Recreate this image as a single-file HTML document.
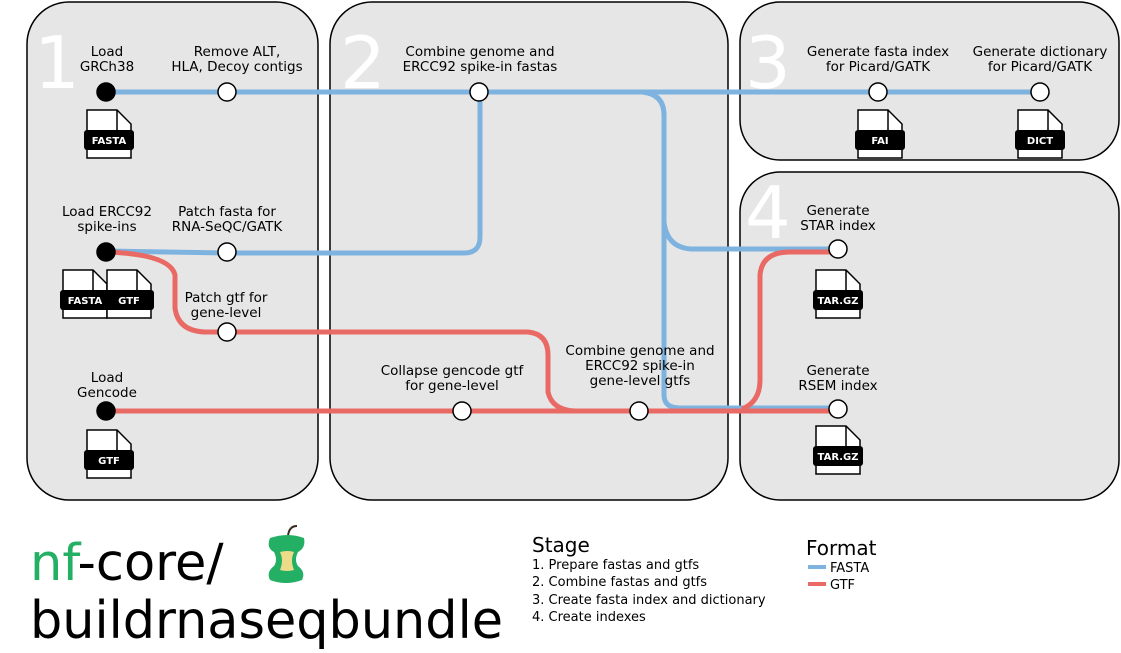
<!DOCTYPE html>
<html><head><meta charset="utf-8"><style>
html,body{margin:0;padding:0;background:#fff;width:1121px;height:653px;overflow:hidden}
svg{display:block;font-family:"DejaVu Sans","Liberation Sans",sans-serif}
.lbl{font-size:13.5px;fill:#000;text-anchor:middle}
.num{font-size:72px;fill:#fff;font-family:"DejaVu Sans",sans-serif}
</style></head><body>
<svg id="map" width="1121" height="653" viewBox="0 0 1121 653">
<g fill="#e6e6e6" stroke="#000" stroke-width="1.5">
<rect x="27" y="2" width="291" height="498" rx="42"/>
<rect x="330" y="2" width="398" height="498" rx="42"/>
<rect x="740" y="2" width="379" height="158" rx="40"/>
<rect x="740" y="172" width="379" height="328" rx="40"/>
</g>
<text class="num" x="34" y="88">1</text>
<text class="num" x="340" y="88">2</text>
<text class="num" x="745" y="88">3</text>
<text class="num" x="745" y="238">4</text>

<g fill="none" stroke="#7fb3df" stroke-width="5">
<path d="M106 92 H1040"/>
<path d="M106 251 L227 253 H464 Q480 253 480 237 V92"/>
<path d="M642 92 Q664 94 664 115 V395 Q664 408 680 408 H838"/>
<path d="M664 222 Q667 248 692 249 H838"/>
</g>
<g fill="none" stroke="#e96a65" stroke-width="5">
<path d="M106 252 Q170 254 175 275 V308 Q178 331 205 332 H528 Q548 334 548 355 V392 Q552 410 575 411"/>
<path d="M106 411 H838"/>
<path d="M742 409 Q760 402 760 380 V275 Q762 252 790 252 H838"/>
</g>

<g stroke="#000" stroke-width="1.5">
<circle cx="106" cy="92" r="9" fill="#000"/>
<circle cx="106" cy="252" r="9" fill="#000"/>
<circle cx="106" cy="411" r="9" fill="#000"/>
<circle cx="227" cy="92" r="9" fill="#fff"/>
<circle cx="479" cy="92" r="9" fill="#fff"/>
<circle cx="227" cy="252" r="9" fill="#fff"/>
<circle cx="227" cy="332" r="9" fill="#fff"/>
<circle cx="462" cy="411" r="9" fill="#fff"/>
<circle cx="639" cy="411" r="9" fill="#fff"/>
<circle cx="878" cy="92" r="9" fill="#fff"/>
<circle cx="1040" cy="92" r="9" fill="#fff"/>
<circle cx="838" cy="249" r="9" fill="#fff"/>
<circle cx="838" cy="409" r="9" fill="#fff"/>
</g>

<g>
<text class="lbl" x="107" y="56"><tspan x="107">Load</tspan><tspan x="107" dy="15">GRCh38</tspan></text>
<text class="lbl" x="237" y="56"><tspan x="237">Remove ALT,</tspan><tspan x="237" dy="15">HLA, Decoy contigs</tspan></text>
<text class="lbl" x="480" y="56"><tspan x="480">Combine genome and</tspan><tspan x="480" dy="15">ERCC92 spike-in fastas</tspan></text>
<text class="lbl" x="878" y="56"><tspan x="878">Generate fasta index</tspan><tspan x="878" dy="15">for Picard/GATK</tspan></text>
<text class="lbl" x="1040" y="56"><tspan x="1040">Generate dictionary</tspan><tspan x="1040" dy="15">for Picard/GATK</tspan></text>
<text class="lbl" x="107" y="216"><tspan x="107">Load ERCC92</tspan><tspan x="107" dy="15">spike-ins</tspan></text>
<text class="lbl" x="227" y="216"><tspan x="227">Patch fasta for</tspan><tspan x="227" dy="15">RNA-SeQC/GATK</tspan></text>
<text class="lbl" x="226" y="302"><tspan x="226">Patch gtf for</tspan><tspan x="226" dy="15">gene-level</tspan></text>
<text class="lbl" x="107" y="382"><tspan x="107">Load</tspan><tspan x="107" dy="15">Gencode</tspan></text>
<text class="lbl" x="452" y="375"><tspan x="452">Collapse gencode gtf</tspan><tspan x="452" dy="15">for gene-level</tspan></text>
<text class="lbl" x="640" y="355"><tspan x="640">Combine genome and</tspan><tspan x="640" dy="15">ERCC92 spike-in</tspan><tspan x="640" dy="15">gene-level gtfs</tspan></text>
<text class="lbl" x="838" y="215"><tspan x="838">Generate</tspan><tspan x="838" dy="15">STAR index</tspan></text>
<text class="lbl" x="838" y="375"><tspan x="838">Generate</tspan><tspan x="838" dy="15">RSEM index</tspan></text>
</g>

<g id="files"></g>

<g>
<text x="30" y="580" font-size="51" font-family="'DejaVu Sans',sans-serif"><tspan fill="#24b064">nf</tspan><tspan fill="#000">-core/</tspan></text>
<g>
<path d="M288 536 q1 -10 9 -10" stroke="#3a2a20" stroke-width="2" fill="none"/>
<path d="M270 538 q18 -6 34 0 q2 10 -6 14 q-4 8 0 14 q8 6 4 14 q-16 6 -32 0 q-4 -8 4 -14 q4 -6 0 -14 q-8 -4 -4 -14z" fill="#24b064"/>
<path d="M280 552 q8 -2 14 0 q-4 8 0 18 q-7 2 -14 0 q4 -10 0 -18z" fill="#ecdc8a"/>
</g>
<text x="30" y="638" font-size="52" textLength="473" lengthAdjust="spacingAndGlyphs" font-family="'DejaVu Sans',sans-serif" fill="#000">buildrnaseqbundle</text>
</g>

<g font-size="13">
<text x="532" y="552" font-size="20">Stage</text>
<text x="532" y="569">1. Prepare fastas and gtfs</text>
<text x="532" y="586">2. Combine fastas and gtfs</text>
<text x="532" y="604">3. Create fasta index and dictionary</text>
<text x="532" y="621">4. Create indexes</text>
</g>
<g font-size="13">
<text x="806" y="555" font-size="20">Format</text>
<line x1="808" y1="567" x2="826" y2="567" stroke="#7fb3df" stroke-width="4"/>
<text x="830" y="572">FASTA</text>
<line x1="808" y1="584" x2="826" y2="584" stroke="#e96a65" stroke-width="4"/>
<text x="830" y="589">GTF</text>
</g>
</svg>
<script>
const fileLabels = ["FASTA","FASTA","GTF","GTF","FAI","DICT","TAR.GZ","TAR.GZ"];
const fileX = [109,85,129,109,880,1040,838,838];
const fileY = [110,270,270,430,110,110,270,426];
const NS="http://www.w3.org/2000/svg";
const g=document.getElementById('files');
for(let i=0;i<fileLabels.length;i++){
  const cx=fileX[i], y=fileY[i], w=44;
  const x=cx-w/2;
  const grp=document.createElementNS(NS,'g');
  
  
  const doc=document.createElementNS(NS,'path');
  doc.setAttribute('d',`M${x} ${y} H${x+w-14} L${x+w} ${y+14} V${y+48} H${x} Z`);
  doc.setAttribute('fill','#fff');doc.setAttribute('stroke','#000');doc.setAttribute('stroke-width','1.5');
  grp.appendChild(doc);
  const fold=document.createElementNS(NS,'path');
  fold.setAttribute('d',`M${x+w-14} ${y} V${y+20}`);
  fold.setAttribute('stroke','#000');fold.setAttribute('stroke-width','1.5');
  grp.appendChild(fold);
  const band=document.createElementNS(NS,'rect');
  band.setAttribute('x',x-3);band.setAttribute('y',y+20);band.setAttribute('width',w+6);band.setAttribute('height',20);band.setAttribute('rx',3);
  band.setAttribute('fill','#000');
  grp.appendChild(band);
  const t=document.createElementNS(NS,'text');
  t.setAttribute('x',cx);t.setAttribute('y',y+34);t.setAttribute('text-anchor','middle');
  t.setAttribute('font-size','10');t.setAttribute('fill','#fff');t.setAttribute('font-weight','bold');
  t.textContent=fileLabels[i];
  grp.appendChild(t);
  g.appendChild(grp);
}
</script>
</body></html>
